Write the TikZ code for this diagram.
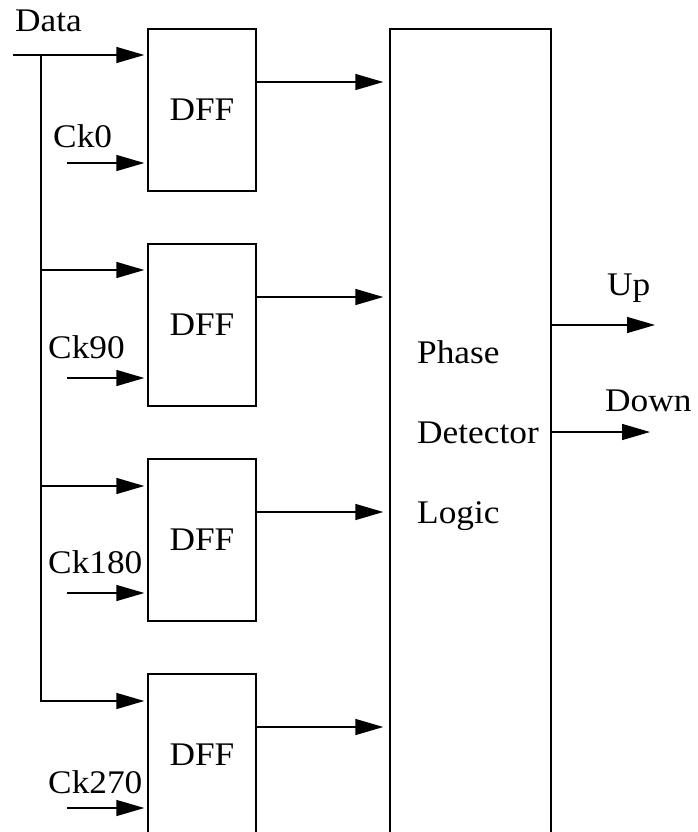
\documentclass[tikz,border=0pt]{standalone}
\usepackage{fontspec}
\setmainfont{Liberation Serif}[FakeStretch=1.07]
\usetikzlibrary{arrows.meta}
\begin{document}
\begin{tikzpicture}[x=1pt,y=-1pt,
  lw/.style={line width=1.4pt},
  sig/.style={lw, -{Triangle[length=28pt,width=16pt]}, shorten >=3pt},
  txt/.style={font=\fontsize{33}{36}\selectfont, inner sep=0pt},
  dffbox/.style={draw, lw, minimum width=108pt, minimum height=162pt, inner sep=0pt, txt},
  pdlbox/.style={draw, lw, minimum width=161pt, minimum height=900pt, inner sep=0pt},
]
\useasboundingbox (0,0) rectangle (697,832);
% boxes
\node[dffbox] (d1) at (202,110) {DFF};
\node[dffbox] (d2) at (202,325) {DFF};
\node[dffbox] (d3) at (202,540) {DFF};
\node[dffbox] (d4) at (202,755) {DFF};
\node[pdlbox] (pdl) at (470.5,479) {};
\node[txt, anchor=base west] (t1) at (417,363) {Phase};
\node[txt, anchor=base west] (t2) at (417,443) {Detector};
\node[txt, anchor=base west] (t3) at (417,523) {Logic};
% labels
\node[txt, anchor=base west] (ldata) at (15,32) {Data};
\node[txt, anchor=base west] (lc0) at (53,147) {Ck0};
\node[txt, anchor=base west] (lc90) at (48,358) {Ck90};
\node[txt, anchor=base west] (lc180) at (48,573) {Ck180};
\node[txt, anchor=base west] (lc270) at (48,793) {Ck270};
\node[txt, anchor=base west] (lup) at (607,295) {Up};
\node[txt, anchor=base west] (ldown) at (605,411) {Down};
% data bus
\coordinate (ds) at (13,55);
\coordinate (dj) at (41,55);
\coordinate (b2) at (41,270);
\coordinate (b3) at (41,486);
\coordinate (b4) at (41,701);
\draw[sig] (ds) -- (ds -| d1.west);
\draw[sig] (dj) -- (b4) -- (b4 -| d4.west);
\draw[sig] (b2) -- (b2 -| d2.west);
\draw[sig] (b3) -- (b3 -| d3.west);
% clocks
\coordinate (c1) at (67,163);
\coordinate (c2) at (67,378);
\coordinate (c3) at (67,593);
\coordinate (c4) at (67,808);
\foreach \i in {1,2,3,4}{
  \draw[sig] (c\i) -- (c\i -| d\i.west);
  \coordinate (o\i) at ([yshift=28pt]d\i.east);
  \draw[sig, shorten >=6pt] (o\i) -- (o\i -| pdl.west);
}
% outputs
\coordinate (uend) at (655,325);
\coordinate (dend) at (650,432);
\draw[sig, shorten >=0pt] (pdl.east |- uend) -- (uend);
\draw[sig, shorten >=0pt] (pdl.east |- dend) -- (dend);
\end{tikzpicture}
\end{document}
